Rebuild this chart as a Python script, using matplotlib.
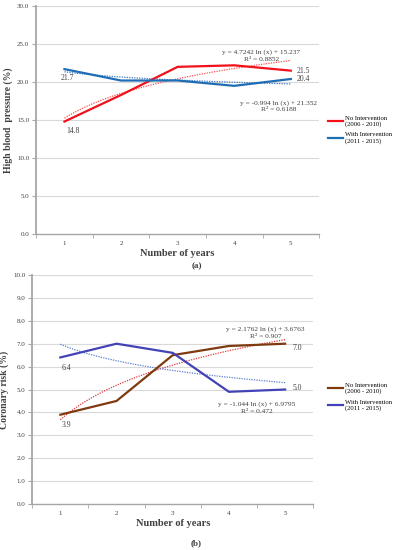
import matplotlib
matplotlib.use("Agg")
import matplotlib.pyplot as plt
import numpy as np

plt.rcParams['font.family'] = ['Liberation Serif', 'DejaVu Serif']

years = [1, 2, 3, 4, 5]
year_labels = ["1", "2", "3", "4", "5"]

# (a) high blood pressure (%)
bp_no = [14.8, 18.3, 22.0, 22.2, 21.5]
bp_with = [21.7, 20.2, 20.2, 19.5, 20.4]
bp_eq_no = ["y = 4.7242 ln (x) + 15.237", "R² = 0.8852"]
bp_eq_with = ["y = -0.994 ln (x) + 21.352", "R² = 0.6188"]

# (b) coronary risk (%)
cr_no = [3.9, 4.5, 6.5, 6.9, 7.0]
cr_with = [6.4, 7.0, 6.6, 4.9, 5.0]
cr_eq_no = ["y = 2.1762 ln (x) + 3.6763", "R² = 0.907"]
cr_eq_with = ["y = -1.044 ln (x) + 6.9795", "R² = 0.472"]

legend_labels = ["No Intervention\n(2006 - 2010)", "With Intervention\n(2011 - 2015)"]

GRID = "#d9d9d9"
AXIS = "#a6a6a6"
TXT = "#404040"


def log_trend(x, y):
    # same as the excel logarithmic trendline
    k, c = np.polyfit(np.log(x), y, 1)
    xs = np.linspace(1, 5, 100)
    return xs, k * np.log(xs) + c


def style_axes(ax, ymax, ystep):
    ax.set_xlim(0.5, 5.5)
    ax.set_ylim(0, ymax)
    ax.set_yticks(np.arange(0, ymax + 0.01, ystep))
    ax.set_yticklabels(["%.1f" % v for v in np.arange(0, ymax + 0.01, ystep)])
    ax.set_xticks(years)
    ax.set_xticklabels(year_labels)
    ax.set_xticks(np.arange(0.5, 5.6, 1), minor=True)
    ax.tick_params(axis='x', which='major', length=0, pad=5, labelsize=5, colors=TXT)
    ax.tick_params(axis='x', which='minor', length=3, color=AXIS, direction='out')
    ax.tick_params(axis='y', length=3, color=AXIS, labelsize=5, colors=TXT, pad=2)
    ax.grid(axis='y', color=GRID, linewidth=0.8)
    ax.set_axisbelow(True)
    for s in ['top', 'right']:
        ax.spines[s].set_visible(False)
    ax.spines['left'].set_color(AXIS)
    ax.spines['left'].set_linewidth(1.3)
    ax.spines['bottom'].set_color(AXIS)
    ax.spines['bottom'].set_linewidth(1.0)
    ax.set_xlabel("Number of years", fontsize=7.5, fontweight='bold', color=TXT, labelpad=2)


fig = plt.figure(figsize=(3.93, 5.5), dpi=100)

# ---------------- (a) ----------------
ax1 = fig.add_axes([0.092, 0.5745, 0.72, 0.4145])
style_axes(ax1, 30, 5)
ax1.set_ylabel("High blood  pressure (%)", fontsize=7, fontweight='bold', color=TXT, labelpad=3)

xs, ys = log_trend(years, bp_no)
ax1.plot(xs, ys, color="#ff5050", linestyle=(0, (1, 1)), linewidth=0.9)
xs, ys = log_trend(years, bp_with)
ax1.plot(xs, ys, color="#3a78c0", linestyle=(0, (1, 1)), linewidth=0.9)
l1, = ax1.plot(years, bp_no, color="#f2111b", linewidth=1.6)
l2, = ax1.plot(years, bp_with, color="#1f6db5", linewidth=1.6)

ax1.annotate("%.1f" % bp_no[0], (years[0], bp_no[0]), xytext=(1, -8), textcoords='offset points',
             fontsize=5.5, color=TXT)
ax1.annotate("%.1f" % bp_with[0], (years[0], bp_with[0]), xytext=(-3, -8), textcoords='offset points',
             fontsize=5.5, color=TXT)
ax1.annotate("%.1f" % bp_no[-1], (years[-1], bp_no[-1]), xytext=(4, 0), textcoords='offset points',
             fontsize=5.5, color=TXT, va='center')
ax1.annotate("%.1f" % bp_with[-1], (years[-1], bp_with[-1]), xytext=(4, 0), textcoords='offset points',
             fontsize=5.5, color=TXT, va='center')
ax1.text(4.48, 22.7, bp_eq_no[0] + "\n" + bp_eq_no[1], ha='center', va='bottom',
         fontsize=5.3, color=TXT, linespacing=1.45)
ax1.text(4.78, 16.0, bp_eq_with[0] + "\n" + bp_eq_with[1], ha='center', va='bottom',
         fontsize=5.3, color=TXT, linespacing=1.45)

fig.legend([l1, l2], legend_labels, loc='upper left', bbox_to_anchor=(0.835, 0.79),
           frameon=False, fontsize=4.8, handlelength=2.2, handletextpad=0.3,
           labelspacing=0.8, borderpad=0, borderaxespad=0)
fig.text(0.5, 0.516, "(a)", ha='center', va='center', fontsize=6.5, fontweight='bold', color=TXT)

# ---------------- (b) ----------------
ax2 = fig.add_axes([0.082, 0.0836, 0.715, 0.4164])
style_axes(ax2, 10, 1)
ax2.set_ylabel("Coronary risk (%)", fontsize=7, fontweight='bold', color=TXT, labelpad=3)

xs, ys = log_trend(years, cr_no)
ax2.plot(xs, ys, color="#e03a3a", linestyle=(0, (1, 1)), linewidth=0.9)
xs, ys = log_trend(years, cr_with)
ax2.plot(xs, ys, color="#5b7fd0", linestyle=(0, (1, 1)), linewidth=0.9)
l3, = ax2.plot(years, cr_no, color="#7f3a10", linewidth=1.6)
l4, = ax2.plot(years, cr_with, color="#4343b8", linewidth=1.6)

ax2.annotate("%.1f" % cr_with[0], (years[0], cr_with[0]), xytext=(1, -9), textcoords='offset points',
             fontsize=5.5, color=TXT)
ax2.annotate("%.1f" % cr_no[0], (years[0], cr_no[0]), xytext=(1, -9), textcoords='offset points',
             fontsize=5.5, color=TXT)
ax2.annotate("%.1f" % cr_no[-1], (years[-1], cr_no[-1]), xytext=(5, -3), textcoords='offset points',
             fontsize=5.5, color=TXT, va='center')
ax2.annotate("%.1f" % cr_with[-1], (years[-1], cr_with[-1]), xytext=(5, 1), textcoords='offset points',
             fontsize=5.5, color=TXT, va='center')
ax2.text(4.65, 7.2, cr_eq_no[0] + "\n" + cr_eq_no[1], ha='center', va='bottom',
         fontsize=5.3, color=TXT, linespacing=1.45)
ax2.text(4.5, 3.95, cr_eq_with[0] + "\n" + cr_eq_with[1], ha='center', va='bottom',
         fontsize=5.3, color=TXT, linespacing=1.45)

fig.legend([l3, l4], legend_labels, loc='upper left', bbox_to_anchor=(0.835, 0.304),
           frameon=False, fontsize=4.8, handlelength=2.2, handletextpad=0.3,
           labelspacing=0.8, borderpad=0, borderaxespad=0)
fig.text(0.5, 0.012, "(b)", ha='center', va='center', fontsize=6.5, fontweight='bold', color=TXT)

fig.savefig("out.png", dpi=100)
